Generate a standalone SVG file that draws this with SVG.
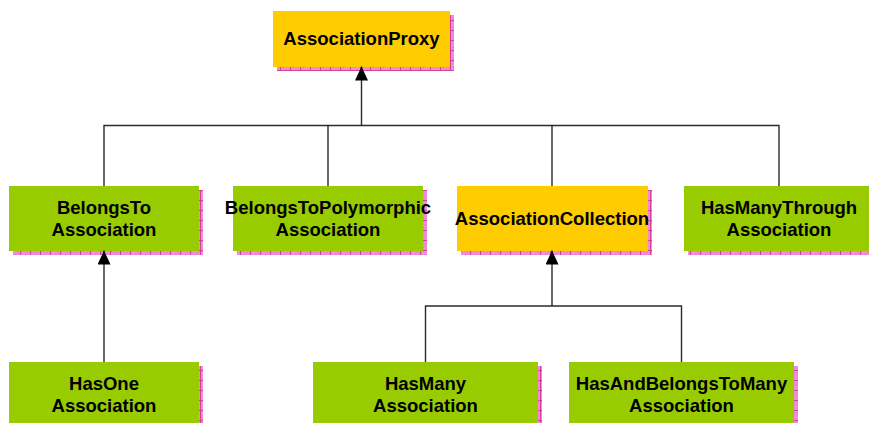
<svg xmlns="http://www.w3.org/2000/svg" width="869" height="423" viewBox="0 0 869 423">
  <defs>
    <pattern id="shd" patternUnits="userSpaceOnUse" width="10" height="10">
      <rect width="10" height="10" fill="#f08cd8"/>
      <rect x="1" y="1" width="1" height="1" fill="#e070c4"/>
      <rect x="5" y="4" width="1" height="1" fill="#e070c4"/>
      <rect x="3" y="7" width="1" height="1" fill="#e070c4"/>
      <rect x="7" y="2" width="1" height="1" fill="#e070c4"/>
      <path d="M0.5,0 V10 M0,0.5 H10" stroke="#d4409a" stroke-width="1"/>
    </pattern>
    <marker id="arr" markerUnits="userSpaceOnUse" markerWidth="15" markerHeight="15" refX="14" refY="6.5" orient="auto">
      <path d="M0,0 L14,6.5 L0,13 z" fill="#000"/>
    </marker>
  </defs>
  <style>
    .shadow { fill: url(#shd); }
    .orange { fill: #ffcc00; }
    .green { fill: #99cc00; }
    .lbl { font-family: "Liberation Sans", Arial, sans-serif; font-weight: bold; font-size: 18.5px; fill: #000; text-anchor: middle; }
    .conn { stroke: #2a2a2a; stroke-width: 1.4; fill: none; }
  </style>

  <g id="AssociationProxy">
    <rect class="shadow" x="277" y="15" width="177" height="56"/>
    <rect class="orange" x="273" y="11" width="177" height="56"/>
    <text class="lbl" x="361.5" y="44.5">AssociationProxy</text>
  </g>

  <g id="BelongsToAssociation">
    <rect class="shadow" x="13" y="190" width="190" height="65"/>
    <rect class="green" x="9" y="186" width="190" height="65"/>
    <text class="lbl" x="104" y="214">BelongsTo</text>
    <text class="lbl" x="104" y="236">Association</text>
  </g>

  <g id="BelongsToPolymorphicAssociation">
    <rect class="shadow" x="237" y="190" width="190" height="65"/>
    <rect class="green" x="233" y="186" width="190" height="65"/>
    <text class="lbl" x="328" y="214">BelongsToPolymorphic</text>
    <text class="lbl" x="328" y="236">Association</text>
  </g>

  <g id="AssociationCollection">
    <rect class="shadow" x="461" y="190" width="191" height="65"/>
    <rect class="orange" x="457" y="186" width="191" height="65"/>
    <text class="lbl" x="552" y="225">AssociationCollection</text>
  </g>

  <g id="HasManyThroughAssociation">
    <rect class="shadow" x="688" y="190" width="190" height="65"/>
    <rect class="green" x="684" y="186" width="190" height="65"/>
    <text class="lbl" x="779" y="214">HasManyThrough</text>
    <text class="lbl" x="779" y="236">Association</text>
  </g>

  <g id="HasOneAssociation">
    <rect class="shadow" x="13" y="366" width="190" height="65"/>
    <rect class="green" x="9" y="362" width="190" height="65"/>
    <text class="lbl" x="104" y="390">HasOne</text>
    <text class="lbl" x="104" y="412">Association</text>
  </g>

  <g id="HasManyAssociation">
    <rect class="shadow" x="317" y="366" width="225" height="65"/>
    <rect class="green" x="313" y="362" width="225" height="65"/>
    <text class="lbl" x="425.5" y="390">HasMany</text>
    <text class="lbl" x="425.5" y="412">Association</text>
  </g>

  <g id="HasAndBelongsToManyAssociation">
    <rect class="shadow" x="573" y="366" width="225" height="65"/>
    <rect class="green" x="569" y="362" width="225" height="65"/>
    <text class="lbl" x="681.5" y="390">HasAndBelongsToMany</text>
    <text class="lbl" x="681.5" y="412">Association</text>
  </g>

  <g id="connectors">
    <path class="conn" d="M104,186 V125.5 H779 V186"/>
    <path class="conn" d="M328,125.5 V186"/>
    <path class="conn" d="M552,125.5 V186"/>
    <path class="conn" d="M361.5,125.5 V66.5" marker-end="url(#arr)"/>
    <path class="conn" d="M104,362 V250.5" marker-end="url(#arr)"/>
    <path class="conn" d="M425.5,362 V306 H681.5 V362"/>
    <path class="conn" d="M552,306 V250.5" marker-end="url(#arr)"/>
  </g>
</svg>
